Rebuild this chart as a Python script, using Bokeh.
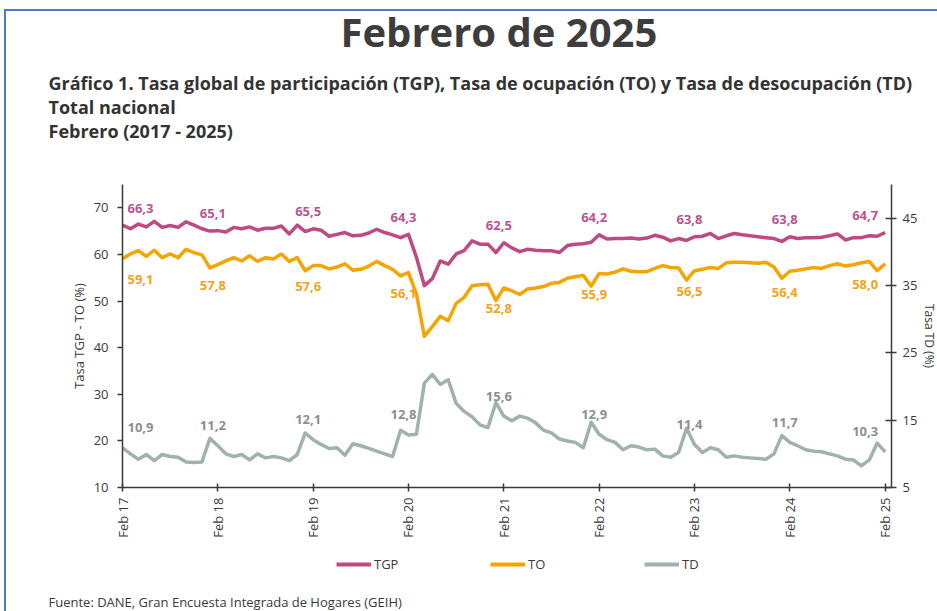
import math
from bokeh.plotting import figure
from bokeh.layouts import column
from bokeh.models import (Range1d, LinearAxis, FixedTicker, LabelSet, Title,
                          ColumnDataSource, Legend, LegendItem)
from bokeh.core.properties import value
from bokeh.embed import file_html
from bokeh.resources import INLINE

# ---------------- data ----------------
tick_labels = ["Feb 17", "Feb 18", "Feb 19", "Feb 20", "Feb 21",
               "Feb 22", "Feb 23", "Feb 24", "Feb 25"]

# Monthly series, Feb 2017 ... Feb 2025 (97 months)
tgp = [66.3, 65.5, 66.5, 65.9, 67.1, 65.8, 66.2, 65.8, 67.0, 66.3, 65.5, 65.0,
       65.1, 64.8, 65.8, 65.5, 65.9, 65.2, 65.6, 65.6, 66.1, 64.4, 66.3, 64.9,
       65.5, 65.2, 63.9, 64.3, 64.7, 64.0, 64.1, 64.6, 65.4, 64.7, 64.2, 63.6,
       64.3, 59.4, 53.3, 54.8, 58.6, 57.9, 60.1, 60.8, 62.9, 62.2, 62.2, 60.4,
       62.5, 61.4, 60.6, 61.1, 60.9, 60.8, 60.8, 60.4, 61.9, 62.2, 62.3, 62.6,
       64.2, 63.3, 63.4, 63.4, 63.5, 63.3, 63.5, 64.1, 63.7, 62.9, 63.4, 63.0,
       63.8, 63.9, 64.5, 63.4, 64.0, 64.5, 64.2, 64.0, 63.8, 63.6, 63.4, 62.8,
       63.8, 63.4, 63.6, 63.6, 63.7, 64.0, 64.4, 63.1, 63.6, 63.6, 64.0, 63.9,
       64.7]

to = [59.1, 60.1, 60.8, 59.6, 60.9, 59.3, 60.1, 59.3, 61.1, 60.4, 59.9, 57.1,
      57.8, 58.6, 59.3, 58.6, 59.7, 58.5, 59.3, 59.0, 60.1, 58.5, 59.3, 56.5,
      57.6, 57.6, 56.9, 57.3, 58.0, 56.6, 56.8, 57.5, 58.5, 57.6, 56.8, 55.4,
      56.1, 51.5, 42.4, 44.5, 46.7, 45.8, 49.5, 50.8, 53.3, 53.5, 53.6, 50.1,
      52.8, 52.2, 51.4, 52.6, 52.8, 53.1, 53.8, 54.0, 54.9, 55.2, 55.5, 53.2,
      55.9, 55.8, 56.2, 56.9, 56.4, 56.3, 56.3, 57.0, 57.6, 57.2, 57.1, 54.5,
      56.5, 56.8, 57.2, 57.0, 58.2, 58.3, 58.3, 58.2, 58.1, 58.3, 57.3, 54.9,
      56.4, 56.6, 56.9, 57.2, 57.0, 57.6, 58.0, 57.5, 57.8, 58.2, 58.5, 56.5,
      58.0]

td = [10.9, 10.0, 9.2, 9.9, 9.0, 9.9, 9.6, 9.5, 8.8, 8.7, 8.8, 12.3,
      11.2, 10.0, 9.6, 9.9, 9.1, 10.0, 9.4, 9.6, 9.4, 9.0, 9.9, 13.1,
      12.1, 11.4, 10.8, 10.9, 9.8, 11.5, 11.2, 10.8, 10.4, 10.0, 9.6, 13.5,
      12.8, 12.9, 20.5, 21.8, 20.3, 21.0, 17.5, 16.3, 15.5, 14.3, 13.9, 17.6,
      15.6, 14.9, 15.6, 15.3, 14.6, 13.5, 13.1, 12.2, 11.9, 11.7, 10.9, 14.7,
      12.9, 12.1, 11.7, 10.6, 11.2, 11.0, 10.6, 10.7, 9.7, 9.5, 10.2, 13.8,
      11.4, 10.2, 10.9, 10.6, 9.5, 9.7, 9.5, 9.4, 9.3, 9.2, 10.0, 12.7,
      11.7, 11.2, 10.6, 10.4, 10.3, 10.0, 9.7, 9.2, 9.1, 8.2, 9.1, 11.6,
      10.3]

series_names = ["TGP", "TO", "TD"]
left_ticks = [10, 20, 30, 40, 50, 60, 70]
right_ticks = [5, 15, 25, 35, 45]

month_idx = list(range(len(tgp)))
feb_idx = list(range(0, len(tgp), 12))

C_TGP = "#bf4a83"
C_TO = "#f5a400"
C_TD = "#a0b2af"
C_TXT = "#3a3a3a"
FONT = "Open Sans"
BLUE = "#4a7bd0"

# ---------------- main figure ----------------
p = figure(frame_width=769, frame_height=303,
           min_border_left=122, min_border_right=46,
           min_border_top=184, min_border_bottom=52,
           x_range=Range1d(0, 96.8), y_range=Range1d(10, 75),
           output_backend="svg", toolbar_location=None,
           background_fill_color="white", border_fill_alpha=0)
p.styles = {"background": f"linear-gradient({BLUE}, {BLUE}) 4px 9px / 100% 2px no-repeat, "
                          f"linear-gradient({BLUE}, {BLUE}) 4px 9px / 2px 100% no-repeat, white"}
p.outline_line_color = None
p.xgrid.visible = False
p.ygrid.visible = False
p.extra_y_ranges = {"td": Range1d(5, 50)}

p.line(month_idx, tgp, line_color=C_TGP, line_width=3.5, line_join="round")
p.line(month_idx, to, line_color=C_TO, line_width=3.5, line_join="round")
p.line(month_idx, td, line_color=C_TD, line_width=3.5, line_join="round",
       y_range_name="td")

# axes
xa = p.xaxis[0]
xa.ticker = FixedTicker(ticks=feb_idx)
xa.major_label_overrides = {i: lab for i, lab in zip(feb_idx, tick_labels)}
xa.major_label_orientation = math.pi / 2
xa.minor_tick_line_color = None
xa.major_tick_in = 4
xa.major_tick_out = 4
xa.major_label_standoff = 6

ya = p.yaxis[0]
ya.ticker = FixedTicker(ticks=left_ticks)
ya.minor_tick_line_color = None
ya.major_tick_in = 0
ya.major_tick_out = 5
ya.major_label_standoff = 9
ya.axis_label = "Tasa TGP - TO (%)"
ya.axis_label_standoff = 3

ra = LinearAxis(y_range_name="td", ticker=FixedTicker(ticks=right_ticks))
ra.minor_tick_line_color = None
ra.major_tick_in = 6
ra.major_tick_out = 5
ra.major_label_standoff = 6
ra.axis_label = "Tasa TD (%)"
ra.axis_label_standoff = 1
p.add_layout(ra, "right")

for ax in (xa, ya, ra):
    ax.axis_line_color = "#3a3a3a"
    ax.axis_line_width = 1.5
    ax.major_tick_line_color = "#3a3a3a"
    ax.major_tick_line_width = 1.5
    ax.major_label_text_font = FONT
    ax.major_label_text_color = C_TXT
    ax.major_label_text_font_size = "13px"
    ax.axis_label_text_font = FONT
    ax.axis_label_text_font_style = "normal"
    ax.axis_label_text_color = C_TXT
    ax.axis_label_text_font_size = "13px"
ra.axis_label_text_font_size = "12px"


def fmt(v):
    return f"{v:.1f}".replace(".", ",")


def label_src(series):
    n = len(feb_idx)
    xo = [18 if k == 0 else (-20 if k == n - 1 else -5) for k in range(n)]
    return ColumnDataSource(dict(x=feb_idx, y=[series[i] for i in feb_idx],
                                 t=[fmt(series[i]) for i in feb_idx], xo=xo))


ls_tgp = LabelSet(x="x", y="y", text="t", source=label_src(tgp), x_offset="xo",
                  y_offset=17, text_align="center", text_baseline="middle",
                  text_font=value(FONT), text_font_style="bold",
                  text_font_size="13px", text_color="#b85590")
ls_to = LabelSet(x="x", y="y", text="t", source=label_src(to), x_offset="xo",
                 y_offset=-21, text_align="center", text_baseline="middle",
                 text_font=value(FONT), text_font_style="bold",
                 text_font_size="13px", text_color="#f2a31c")
ls_td = LabelSet(x="x", y="y", text="t", source=label_src(td), x_offset="xo",
                 y_offset=20, text_align="center", text_baseline="middle",
                 y_range_name="td",
                 text_font=value(FONT), text_font_style="bold",
                 text_font_size="13px", text_color="#8b8f92")
for ls in (ls_tgp, ls_to, ls_td):
    p.add_layout(ls)

# titles, added from the plot outward
p.add_layout(Title(text=" ", align="left", standoff=16,
                   text_font=FONT, text_font_size="10px"), "above")
subtitle = ("Gráfico 1. Tasa global de participación (TGP), Tasa de ocupación (TO) y Tasa de desocupación (TD)\n"
            "Total nacional\n"
            "Febrero (2017 - 2025)")
p.add_layout(Title(text=subtitle, align="left", offset=-74, standoff=16,
                   vertical_align="top",
                   text_font=FONT, text_font_style="bold",
                   text_font_size="18px", text_color="#333333"), "above")
p.add_layout(Title(text="Febrero de 2025", align="left", offset=218, standoff=3,
                   vertical_align="top",
                   text_font=FONT, text_font_style="bold",
                   text_font_size="40px", text_color="#3d3d3d"), "above")

# ---------------- legend + source strip ----------------
p2 = figure(width=937, height=72,
            min_border_left=122, min_border_right=46,
            min_border_top=0, min_border_bottom=24,
            x_range=Range1d(0, 1), y_range=Range1d(0, 1),
            x_axis_location=None, y_axis_location=None,
            output_backend="svg", toolbar_location=None,
            background_fill_alpha=0, border_fill_alpha=0)
p2.styles = {"background": f"linear-gradient({BLUE}, {BLUE}) 4px 0px / 2px 100% no-repeat, white"}
p2.outline_line_color = None
p2.xgrid.visible = False
p2.ygrid.visible = False

items = []
for name, col, ser in zip(series_names, [C_TGP, C_TO, C_TD], [tgp, to, td]):
    # legend proxy: a one-point line (draws nothing in this strip)
    r = p2.line(x=month_idx[:1], y=ser[:1], line_color=col, line_width=4)
    items.append(LegendItem(label=name, renderers=[r]))

legend = Legend(items=items, orientation="horizontal", location=(214, 14),
                glyph_width=35, glyph_height=20, label_height=20,
                label_width=100, label_standoff=3, spacing=16,
                padding=0, margin=0, border_line_color=None,
                background_fill_alpha=0,
                label_text_font=FONT, label_text_font_size="13px",
                label_text_color=C_TXT)
p2.add_layout(legend)

p2.add_layout(Title(text="Fuente: DANE, Gran Encuesta Integrada de Hogares (GEIH)",
                    align="left", offset=-74, standoff=4,
                    text_font=FONT, text_font_style="normal",
                    text_font_size="13px", text_color=C_TXT), "below")

layout = column(p, p2, spacing=0)
open("out.html", "w").write(file_html(layout, INLINE))
